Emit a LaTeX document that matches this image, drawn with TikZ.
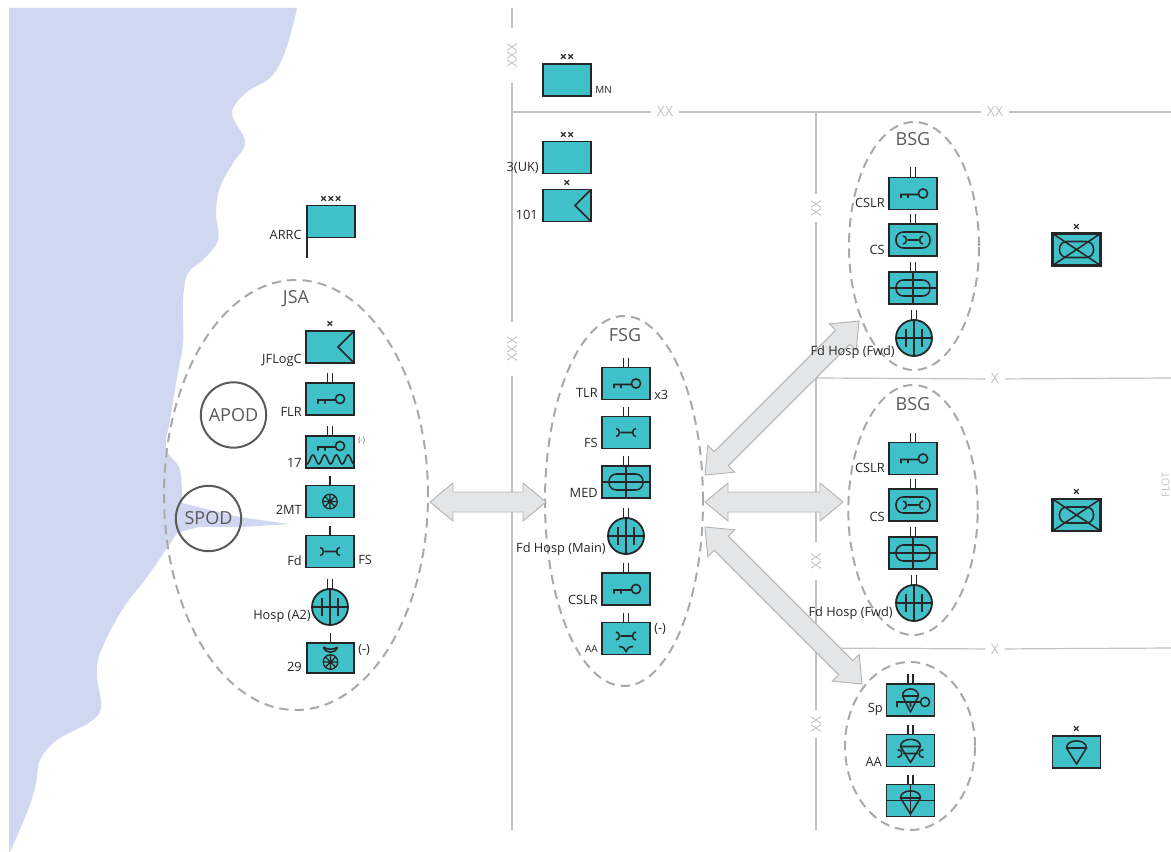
\documentclass[tikz,border=0pt]{standalone}
\usepackage{fontspec}
\setmainfont{Open Sans}
\usetikzlibrary{shapes.geometric,calc}
\definecolor{teal1}{HTML}{40C0C8}
\definecolor{sea}{HTML}{CFD8F0}
\definecolor{ink}{HTML}{262626}
\definecolor{dashgrey}{HTML}{A9A9A9}
\definecolor{ringgrey}{HTML}{5A5A5A}
\definecolor{linegrey}{HTML}{C2C2C2}
\definecolor{arrowfill}{HTML}{E4E5E7}
\definecolor{arrowline}{HTML}{B4B4B4}
\newcommand\blockarrow[2]{%
  \draw[blockline] (#1)
   -- ($(#1)!17.25pt!(#2)!14.25pt!90:(#2)$)
   -- ($(#1)!17.25pt!(#2)!7.5pt!90:(#2)$)
   -- ($(#2)!17.25pt!(#1)!7.5pt!-90:(#1)$)
   -- ($(#2)!17.25pt!(#1)!14.25pt!-90:(#1)$)
   -- (#2)
   -- ($(#2)!17.25pt!(#1)!14.25pt!90:(#1)$)
   -- ($(#2)!17.25pt!(#1)!7.5pt!90:(#1)$)
   -- ($(#1)!17.25pt!(#2)!7.5pt!-90:(#2)$)
   -- ($(#1)!17.25pt!(#2)!14.25pt!-90:(#2)$)
   -- cycle;}
\tikzset{
  unit/.style={draw=ink,fill=teal1,line width=1.35pt,minimum width=36pt,minimum height=24pt,inner sep=0pt,outer sep=0pt,shape=rectangle},
  hospring/.style={draw=ink,fill=teal1,line width=1.35pt,circle,minimum size=27pt,inner sep=0pt,outer sep=0pt},
  sym/.style={draw=ink,line width=1.15pt},
  lab/.style={inner sep=0pt,text=ink,font=\fontsize{9.6}{10}\selectfont},
  labr/.style={lab,anchor=east},
  labl/.style={lab,anchor=west},
  echelon/.style={inner sep=0pt,text=ink,font=\fontsize{9.5}{10}\bfseries\selectfont},
  group/.style={draw=dashgrey,line width=1.5pt,dash pattern=on 7pt off 4.5pt,ellipse,inner sep=0pt},
  grouptitle/.style={inner sep=0pt,text=ringgrey,font=\fontsize{13.5}{14}\selectfont},
  ring/.style={draw=ringgrey,line width=1.5pt,circle,minimum size=49pt,inner sep=0pt,text=ringgrey,font=\fontsize{13.5}{14}\selectfont},
  bound/.style={draw=linegrey,line width=.9pt},
  boundlab/.style={text=linegrey,inner sep=4pt,font=\fontsize{10.5}{11}\selectfont},
  blockline/.style={draw=arrowline,fill=arrowfill,line width=.7pt,line join=miter},
  sOne/.pic={\draw[sym] (0,0) -- (0,-10);},
  sTwo/.pic={\draw[sym] (-2.6,0) -- (-2.6,-10) (2.6,0) -- (2.6,-10);},
  sKey/.pic={\draw[sym] (10,0) circle[radius=4.6] (5.4,1) -- (-12,1) -- (-12,4.5) (-5,1) -- (-5,4.5);},
  sKeyLong/.pic={\draw[sym] (14.5,2) circle[radius=4.6] (9.9,2) -- (-13.5,2) -- (-13.5,7) (0,2) -- (0,7);},
  sWrench/.pic={\draw[sym] (-5.5,0) -- (5.5,0)
     (-10,-4) .. controls (-5.5,-4) and (-5.5,4) .. (-10,4)
     (10,-4) .. controls (5.5,-4) and (5.5,4) .. (10,4);},
  sWheel/.pic={\draw[sym,line width=.95pt] (0,0) circle[radius=7.3] (-7,0) -- (7,0) (0,-7) -- (0,7) (-5,-5) -- (5,5) (-5,5) -- (5,-5);},
  sPill/.pic={\draw[sym,rounded corners=5.5pt] (-17,-8) rectangle (17,8);},
  sCross/.pic={\draw[sym] (-24,0) -- (24,0) (0,-16) -- (0,16);},
  sHosp/.pic={\draw[sym] (-18,0) -- (18,0) (0,-18) -- (0,18) (-8,-9) -- (-8,9) (8,-9) -- (8,9);},
  sChevron/.pic={\draw[sym] (24,-16) -- (8,0) -- (24,16);},
  sBed/.pic={\draw[sym] (-24,-16) -- (24,16) (-24,16) -- (24,-16);},
  sChute/.pic={\draw[sym,line join=round] (-10,-4) .. controls (-10,-13.5) and (10,-13.5) .. (10,-4) -- cycle (-10,-4) -- (0,12) -- (10,-4);},
  sCup/.pic={\draw[sym] (-7,-3) .. controls (-5,4) and (5,4) .. (7,-3) (-7,-3) .. controls (-3,0) and (3,0) .. (7,-3);},
  sVee/.pic={\draw[sym] (-7,-2) .. controls (-3,-2) and (-1,0) .. (0,3) .. controls (1,0) and (3,-2) .. (7,-2);},
}
\begin{document}
\begin{tikzpicture}[x=.75pt,y=-.75pt]
\useasboundingbox (0,0) rectangle (1171,852);
% sea
\fill[sea] (9,8) -- (297,8)
  -- plot[smooth,tension=.6] coordinates {(297,8)(293,25)(283,57)(270,78)(247,92)(232,113)(245,142)(233,163)(220,187)(216,213)(218,240)(203,260)(188,273)(183,300)(183,343)(177,377)(170,420)(166,440)(168,453)(180,470)(182,503)}
  -- plot[smooth,tension=.3] coordinates {(182,503)(240,517)(290,524)}
  -- plot[smooth,tension=.3] coordinates {(290,524)(240,527)(200,527)(177,533)}
  -- plot[smooth,tension=.6] coordinates {(177,533)(167,548)(147,577)(122,610)(100,653)(97,677)(101,707)(90,722)(57,740)(40,760)(36,783)(28,810)(10,852)}
  -- (9,852) -- cycle;
% boundaries
\node[boundlab,rotate=90,inner xsep=11pt] (xxxA) at (512,55.5) {XXX};
\node[boundlab,rotate=90,inner xsep=11pt] (xxxB) at (512,349) {XXX};
\node[boundlab] (xxA) at (665,112) {XX};
\node[boundlab] (xxB) at (995,112) {XX};
\node[boundlab,rotate=90] (xxC) at (816,208) {XX};
\node[boundlab,rotate=90,inner xsep=8pt] (xxD) at (816,561) {XX};
\node[boundlab,rotate=90] (xxE) at (816,724) {XX};
\node[boundlab] (xA) at (995,379) {X};
\node[boundlab] (xB) at (995,649) {X};
\node[boundlab,rotate=90,font=\fontsize{8}{9}\selectfont,inner sep=0pt] (flot) at (1165.5,485) {FLOT};
\coordinate (vaTop) at (512,8);
\coordinate (vaEnd) at (512,830);
\coordinate (hTop) at (512,112);
\coordinate (hTopEnd) at (1171,112);
\coordinate (vbTop) at (816,112);
\coordinate (vbEnd) at (816,830);
\coordinate (hMid) at (816,378);
\coordinate (hMidEnd) at (1171,378);
\coordinate (hLow) at (816,648);
\coordinate (hLowEnd) at (1171,648);
\draw[bound] (vaTop) -- (xxxA) -- (xxxB) -- (vaEnd);
\draw[bound] (hTop) -- (xxA) -- (xxB) -- (hTopEnd);
\draw[bound] (vbTop) -- (xxC) -- (xxD) -- (xxE) -- (vbEnd);
\draw[bound] (hMid) -- (xA) -- (hMidEnd);
\draw[bound] (hLow) -- (xB) -- (hLowEnd);
% groups
\node[group,minimum width=198pt,minimum height=322.5pt] (JSA) at (296,495) {};
\node[group,minimum width=118.5pt,minimum height=277.5pt] (FSG) at (624,501) {};
\node[group,minimum width=97.5pt,minimum height=186pt] (BSGa) at (914,246) {};
\node[group,minimum width=97pt,minimum height=187.5pt] (BSGb) at (913,510) {};
\node[group,minimum width=97.5pt,minimum height=126pt] (DZ) at (910,746) {};
\node[grouptitle] (tJSA) at (296,299) {JSA};
\node[grouptitle] (tFSG) at (625,335) {FSG};
\node[grouptitle] (tBSGa) at (913,139) {BSG};
\node[grouptitle] (tBSGb) at (913,404) {BSG};
\node[ring] (APOD) at (233.5,415) {APOD};
\node[ring] (SPOD) at (208.5,518.5) {SPOD};
% block arrows
\coordinate (aJ) at (430,502);
\coordinate (aF) at (546,502);
\coordinate (bF) at (705,475);
\coordinate (bB) at (859,321);
\coordinate (cF) at (705,502);
\coordinate (cB) at (843,502);
\coordinate (dF) at (705,527);
\coordinate (dD) at (862,684);
\blockarrow{aJ}{aF}
\blockarrow{bF}{bB}
\blockarrow{cF}{cB}
\blockarrow{dF}{dD}
% ARRC
\node[unit] (ARRC) at (331,221.5) {};
\coordinate (staff) at (307,258);
\draw[sym] (ARRC.south west) -- (staff);
\node[echelon] (eARRC) at (331,199.5) {×××};
\node[labr] (lARRC) at (302,235) {ARRC};
% JSA column
\node[unit] (JFLogC) at (330,347) {};
\pic at (JFLogC) {sChevron};
\node[echelon] (eJF) at (330,325) {×};
\node[labr] (lJF) at (302,360) {JFLogC};
\node[unit] (FLR) at (330,399) {};
\pic at (FLR.north) {sTwo};
\pic at (FLR) {sKey};
\node[labr] (lFLR) at (302,412) {FLR};
\node[unit] (TSR) at (330,452) {};
\pic at (TSR.north) {sTwo};
\pic at ($(TSR)+(0,-6)$) {sKey};
\draw[sym] plot[domain=0:4,samples=81,smooth] ({307+11.75*\x},{459.5-4.5*sin(360*\x-90)});
\node[labr] (l17) at (302,463) {17};
\node[labl,font=\fontsize{5.5}{6}\selectfont,text=ringgrey] (m17) at (358,440) {(-)};
\node[unit] (MT) at (330,501.5) {};
\pic at (MT.north) {sOne};
\pic at (MT) {sWheel};
\node[labr] (lMT) at (302,510) {2MT};
\node[unit] (FdFS) at (330,551.5) {};
\pic at (FdFS.north) {sOne};
\pic at (FdFS) {sWrench};
\node[labr] (lFd) at (302,561) {Fd};
\node[labl] (rFS) at (358,560) {FS};
\node[hospring] (HospA) at (330,607) {};
\pic at (HospA) {sHosp};
\pic at (HospA.north) {sTwo};
\node[labr] (lHospA) at (311,616) {Hosp (A2)};
\node[unit,line width=1.9pt,minimum width=35.5pt,minimum height=22.5pt] (RLC) at (330.5,658) {};
\pic at (RLC.north) {sOne};
\pic at ($(RLC)+(0,4)$) {sWheel};
\pic at ($(RLC)+(0,-8)$) {sCup};
\node[labr] (l29) at (302,667) {29};
\node[labl] (m29) at (358,650) {(-)};
% FSG column
\node[unit] (TLR) at (626,383.5) {};
\pic at (TLR.north) {sTwo};
\pic at (TLR) {sKey};
\node[labr] (lTLR) at (598,393) {TLR};
\node[labl] (rTLR) at (654,395) {x3};
\node[unit] (FSb) at (626,432.5) {};
\pic at (FSb.north) {sTwo};
\pic at (FSb) {sWrench};
\node[labr] (lFSb) at (598,443) {FS};
\node[unit] (MED) at (626,482) {};
\pic at (MED.north) {sTwo};
\pic at (MED) {sPill};
\pic at (MED) {sCross};
\node[labr] (lMED) at (598,493) {MED};
\node[hospring] (HospM) at (626,536) {};
\pic at (HospM) {sHosp};
\pic at (HospM.north) {sTwo};
\node[labr] (lHospM) at (606,549) {Fd Hosp (Main)};
\node[unit] (CSLRf) at (626,589) {};
\pic at (CSLRf.north) {sTwo};
\pic at (CSLRf) {sKey};
\node[labr] (lCSLRf) at (598,600) {CSLR};
\node[unit] (AAf) at (626,638.5) {};
\pic at (AAf.north) {sTwo};
\pic at ($(AAf)+(0,-2.5)$) {sWrench};
\pic at ($(AAf)+(0,10)$) {sVee};
\node[labr,font=\fontsize{7.5}{8}\selectfont] (lAAf) at (598,649) {AA};
\node[labl] (mAAf) at (654,629) {(-)};
% top units
\node[unit] (MN) at (567,80) {};
\node[echelon] (eMN) at (567,58) {××};
\node[labl,font=\fontsize{7.5}{8}\selectfont] (lMN) at (595,90) {MN};
\node[unit] (UK) at (567,157.5) {};
\node[echelon] (eUK) at (567,135.5) {××};
\node[labr] (lUK) at (539,168) {3(UK)};
\node[unit] (BDE) at (567,205.5) {};
\pic at (BDE) {sChevron};
\node[echelon] (eBDE) at (567,184) {×};
\node[labr] (lBDE) at (538,215) {101};
% BSG a
\node[unit] (CSLRa) at (913,193.5) {};
\pic at (CSLRa.north) {sTwo};
\pic at (CSLRa) {sKey};
\node[labr] (lCSLRa) at (885,203) {CSLR};
\node[unit] (CSa) at (913,240) {};
\pic at (CSa.north) {sTwo};
\pic at (CSa) {sPill};
\pic at (CSa) {sWrench};
\node[labr] (lCSa) at (885,250) {CS};
\node[unit] (MEDa) at (913,288) {};
\pic at (MEDa.north) {sTwo};
\pic at (MEDa) {sPill};
\pic at (MEDa) {sCross};
\node[hospring] (HospFa) at (914,338) {};
\pic at (HospFa) {sHosp};
\pic at (HospFa.north) {sTwo};
\node[labr] (lHospFa) at (895,352) {Fd Hosp (Fwd)};
% BSG b
\node[unit] (CSLRb) at (913,458.5) {};
\pic at (CSLRb.north) {sTwo};
\pic at (CSLRb) {sKey};
\node[labr] (lCSLRb) at (885,468) {CSLR};
\node[unit] (CSb) at (913,505) {};
\pic at (CSb.north) {sTwo};
\pic at (CSb) {sPill};
\pic at (CSb) {sWrench};
\node[labr] (lCSb) at (885,517) {CS};
\node[unit] (MEDb) at (913,553) {};
\pic at (MEDb.north) {sTwo};
\pic at (MEDb) {sPill};
\pic at (MEDb) {sCross};
\node[hospring] (HospFb) at (914,603) {};
\pic at (HospFb) {sHosp};
\pic at (HospFb.north) {sTwo};
\node[labr] (lHospFb) at (893,613) {Fd Hosp (Fwd)};
% airborne group
\node[unit] (Sp) at (910.5,700) {};
\pic at (Sp.north) {sTwo};
\pic at (Sp) {sKeyLong};
\pic[xscale=.8] at (Sp) {sChute};
\node[labr] (lSp) at (883,709) {Sp};
\node[unit] (AAd) at (910.5,750.5) {};
\pic at (AAd.north) {sTwo};
\pic[xscale=1.3] at ($(AAd)+(0,3)$) {sWrench};
\pic at (AAd) {sChute};
\node[labr] (lAAd) at (882,762) {AA};
\node[unit] (MEDd) at (910.5,800.5) {};
\pic at (MEDd.north) {sTwo};
\pic at (MEDd) {sCross};
\pic at ($(MEDd)+(0,1.5)$) {sChute};
% right column
\node[unit,line width=1.6pt] (BdeA) at (1076.5,249.5) {};
\pic at (BdeA) {sPill};
\pic at (BdeA) {sBed};
\node[echelon] (eBdeA) at (1076.5,228) {×};
\node[unit,line width=1.6pt] (BdeB) at (1076.5,515) {};
\pic at (BdeB) {sPill};
\pic at (BdeB) {sBed};
\node[echelon] (eBdeB) at (1076.5,493) {×};
\node[unit] (BdeC) at (1076.5,752) {};
\pic at (BdeC) {sChute};
\node[echelon] (eBdeC) at (1076.5,730) {×};
\end{tikzpicture}
\end{document}
